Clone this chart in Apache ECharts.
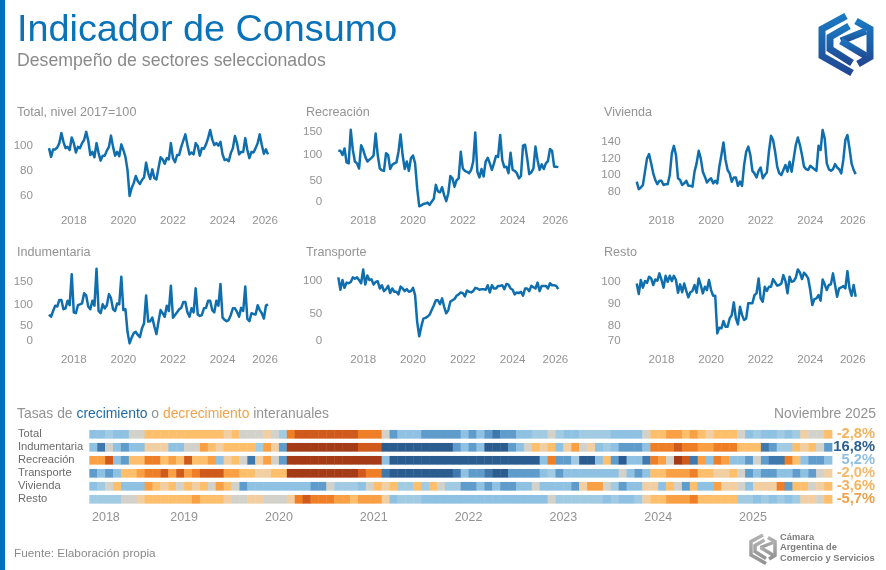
<!DOCTYPE html>
<html><head><meta charset="utf-8">
<style>html,body{margin:0;padding:0;background:#fff}#c{width:886px;height:570px}</style>
<script src="https://cdn.jsdelivr.net/npm/echarts@6/dist/echarts.min.js"></script>
</head><body><div id="c"></div>
<script>
// ---------- line panels: monthly, Jan 2017 .. Nov 2025 ----------
const total = [98,91,97,97,98.5,102,110,103,98,99,96.5,106.5,
102,94.5,99,98,102,104.5,111,104,92.5,95,90.7,102,
94,88,92,92,96,99,108,99,92,95,91.5,101,
96.5,91,80.5,59.7,66,70,75.7,71.5,69.3,72.5,74.5,86.4,
78,73.3,81,74,73,82,90.7,89,85.5,90,89,102,
90,86.7,92.5,92.5,99,104,109,100.5,93,94.5,93,102,
99.5,92,98,97.5,101,106,112.5,105,100.5,102,100,103,
93,88.5,89,87.5,94,98,107.7,102,93,95,95,106,
96.5,90,95,94.5,98,102,109,100.5,93.5,97,93];
const recreacion = [109,109,100,114,84,82,154,111,86,82,71,121,
111,96,86,90,94,99,146,100,71,67,66,104,
100,70,79,82,84,107,144,100,70,86,66,93,
99,82,29,-10,-8,-5,-4,-2,-7,0,6,36,
22,20,31,14,1,18,55,50,32,46,50,107,
71,66,64,61,68,86,148,64,52,70,54,86,
94,82,68,82,98,96,143,89,74,75,61,105,
68,66,61,50,55,120,122,93,59,63,71,118,
89,68,80,70,82,87,113,109,75,75,74];
const vivienda = [92,83,85,88,104,120,125,114,102,94,89,93,
93,88,89,89,100,126,135,124,96,94,88,90,
93,87,87,86,104,114,129,120,104,98,91,94,
96,90,93,90,110,124,139,118,106,102,92,97,
97,87,92,87,112,128,134,124,105,102,97,105,
109,96,100,103,128,147,142,128,110,102,100,106,
112,104,116,104,120,136,145,136,124,110,107,106,
111,109,107,105,135,130,154,144,114,107,105,107,
113,109,107,102,118,142,148,132,114,106,101];
const indumentaria = [77,72,85,97,95,110,110,89,91,108,98,168,
82,80,98,100,102,125,120,95,89,108,97,180,
85,80,100,91,98,123,114,89,85,102,100,162,
87,89,38,12,25,35,38,31,26,46,57,120,
61,62,70,50,33,61,87,80,72,97,85,142,
70,76,82,89,92,105,105,82,72,91,82,136,
77,74,76,91,92,108,108,87,82,108,97,146,
70,65,62,65,76,91,91,83,72,92,85,140,
67,62,80,78,77,98,87,80,68,97,100];
const transporte = [105,86,101,89,97,96,98,105,103,105,101,96,
117,94,108,101,102,94,98,99,88,93,84,87,
92,81,88,83,83,79,91,88,84,87,83,84,
89,78,37,15,30,42,43,45,48,55,62,70,
70,64,73,60,50,55,68,70,72,77,79,82,
81,76,85,83,82,84,89,88,86,87,87,86,
93,82,93,88,88,92,92,93,87,95,94,88,
86,79,82,81,83,77,88,88,84,92,90,88,
97,84,92,92,92,88,96,93,93,92,87];
const resto = [99.2,94.4,100.8,97.3,100.3,99.5,102.3,101.5,98.5,101,100.5,103.8,
100.8,97.3,102.7,100,102.7,100.3,102.7,100.8,95,98.8,95.2,99.2,
95.8,92.9,95.2,95.8,98.5,95,101.5,98.5,94.7,97.7,96.2,100.8,
96.2,93.6,93.6,76.5,79.1,78.8,82.1,79.5,79.5,83.3,84.8,90.6,
83.3,80.6,88.6,84.8,82.6,83.3,90.2,90.2,90.2,93.9,94.7,101.5,
92.4,90.9,97.7,95.8,97.7,97.7,101.2,99.7,98.2,98.5,99.2,103,
100.3,94.7,102.3,100,100.3,101.8,105.6,104.2,101.2,104.1,103,101.5,
96.2,89.4,92.1,92.4,93.9,91.4,101,98.8,96.2,98.5,98.8,103.8,
98.5,93.2,97,97.4,98,97,104.8,97,93.6,98.5,93.2];
const lineYearLabels = ['2018','2020','2022','2024','2026'];

// ---------- interannual rates (94 months) ----------
const rowNames = ['Total','Indumentaria','Recreación','Transporte','Vivienda','Resto'];
const lastLabels = ['-2,8%','16,8%','5,2%','-2,0%','-3,6%','-5,7%'];
const heatYearLabels = ['2018','2019','2020','2021','2022','2023','2024','2025'];
const rTotal = [4.5,4.5,2.5,5,4.5,1,-0.5,-4,-3.5,-4,-4.5,-4,
-3.5,-5,-4,-4,-4.5,-2,-3.5,0.5,0.5,0.5,-0.8,0,
2.5,-12,-20,-21,-19,-21,-19,-21,-19,-18,-15,-12,
-13,1,10,5,5,5,8,9,9,8,7,6,
8,6,10,20,11,9,6,5,3,3,0.5,3,
4,4,3,2.5,3,2.5,4,4,4.5,4,1,-5,
-5,-8,-8.5,-6,-7,-4,-2,-5,-5,-4,0.5,5,
2.5,5,5,3,4,1.5,-1.5,0.5,0.5,-2.8];
const rIndumentaria = [5,22,1,5,12,5,5,-1.5,-1,-1,5,5,
0.5,0.5,-8,-4,-2,-4,-4,-4,-4,3,-8,-1.5,
12,-35,-35,-40,-45,-50,-48,-42,-38,-36,-25,-24,
-26,35,40,50,60,65,70,60,55,45,12,5,
12,5,35,40,32,12,5,0.5,-4,-2,-4,5,
-1.5,-8,0.5,-1,5,1.6,5,12,10,12,5,-13,
-14,-13,-22,-14,-13,-9,-8,-12,-11,-12,-5,-4,
-5,25,12,3,3,-4,-2,-5,0.5,16.8];
const rRecreacion = [-9,-9,-20,5,12,-4,-5,-15,-14,-5,-8,-6,
-17,-4,-4,-8,5,-2,-4,0.5,22,-2,-8,0.5,
12,-35,-60,-85,-90,-92,-88,-80,-75,-70,-60,-50,
-45,5,150,200,260,280,250,230,210,180,150,120,
100,90,85,80,75,70,65,35,35,4,-13,12,
12,3,35,33,5,-4,12,35,5,5,20,-14,
-8,0.5,-30,-28,20,-8,5,-14,-9,5,5,12,
0.5,12,22,24,-14,-4,5,10,11,5.2];
const rTransporte = [12,5,8,5,-3,-3,-8,-14,-13,-17,-8,-20,
-9,-16,-17,-20,-18,-9,-8,-4,-4,-2,-2,-4,
-4,-35,-50,-55,-60,-55,-50,-45,-30,-29,-22,-14,
-15,22,35,32,38,40,36,32,30,33,18,5,
12,10,24,35,33,15,16,12,10,5,3,12,
5,5,5,5,5,5,5,0.5,6,8,5,-4,
-4,-8,-9,-8,-10.5,-4,-3,-2,-2,-3,0.5,12,
5,10,9,5,5,8,5,10,0.5,-2];
const rVivienda = [5,3,0.5,-3,6,6,5,-8,-3,-2,-4,0.5,
-3,-2,-3,0.5,-8,-4,0.5,8,5,5,5,5,
5,5,5,5,8,8,0.5,3,3,1.5,5,0.5,
-4,-2,-4,3,3,-5,3,-4.5,0.5,3,3,8,
8,5,9,5,8,8,5,5,0.5,5,5,5,
5,9,-1.5,-8,-7,1,2,9,5,5,-1.5,-2,
5,-5,0.5,14,-4,5,5,-7,-2,-1.5,0.5,5,
-1.5,-2,-2,-12,10,-4,-5,0.5,-2,-3.6];
const rResto = [3,1.5,3,3,0.5,0.5,-2,-4,-4,-3.5,-4,-4,
-4,-6.5,-4,-4,-4.5,-2,0.5,0,-1,-1,0.5,0.5,
0.5,-2,-14,-17,-15,-13,-13,-9,-8,-6,-7,-8,
-8,-2,5,3,3,3,5,5,5,5,4.5,5,
5,4.5,5,5,4.5,4.5,5,5,4.5,5,0.5,3,
3,3,3,3,3,4,3,4,4,3,-2,-4,
-5,-8,-9,-8,-11,-4,-5,-4,-4,-4,3,3,
4,3,4,3,4,3,-1.5,-1.5,0.5,-5.7];
const rateRows = [rTotal,rIndumentaria,rRecreacion,rTransporte,rVivienda,rResto];

// ---------- styling ----------
const FONT='"Liberation Sans",Arial,sans-serif', GREY='#939393', LINE='#0f6fae';
const BLUE_TXT='#1f6aa8', ORANGE_TXT='#f0a24b';
const lastColors=['#f5b35e','#2b5f92','#8fbfe0','#f5b96b','#f5b35e','#f2a048'];
function rateColor(v){
  if(v>=30) return '#2b5c8f'; if(v>=18) return '#3f78ad'; if(v>=7) return '#5f9ccb';
  if(v>=4) return '#8ec1e2'; if(v>=1.5) return '#a1cae3'; if(v>=-0.5) return '#d2d2cb';
  if(v>=-2.5) return '#f1cfa3'; if(v>=-6) return '#fdbf6c'; if(v>=-10) return '#f9a044';
  if(v>=-16) return '#ee7f26'; if(v>=-28) return '#d05a1b'; return '#a43b16';
}
const lineTickPos=[12,36,60,84,104.6];
const panels=[
 {name:'Total, nivel 2017=100',d:total,l:49,r:268,t:128,b:208,min:50.1,max:114.1,pos:[60,80,100],lab:['60','80','100'],tx:17,ty:113},
 {name:'Recreación',d:recreacion,l:338.3,r:558.3,t:128,b:208,min:-13.6,max:157.9,pos:[0,44,101,150],lab:['0','50','100','150'],tx:306,ty:113},
 {name:'Vivienda',d:vivienda,l:636.7,r:855.7,t:128,b:208,min:60.4,max:156.4,pos:[80,100,120,140],lab:['80','100','120','140'],tx:604,ty:113},
 {name:'Indumentaria',d:indumentaria,l:49,r:268,t:267,b:347,min:3.8,max:184.2,pos:[17.3,52,100,150],lab:['0','50','100','150'],tx:17,ty:252.5},
 {name:'Transporte',d:transporte,l:338.3,r:558.3,t:267,b:347,min:-1.5,max:120.9,pos:[7.6,50,100],lab:['0','50','100'],tx:306,ty:252.5},
 {name:'Resto',d:resto,l:636.7,r:855.7,t:267,b:347,min:70.3,max:106.7,pos:[73,80,90,100],lab:['70','80','90','100'],tx:604,ty:252.5}
];
const grids=[],xAxes=[],yAxes=[],series=[];
const text=(x,y,t,size,color,extra)=>({type:'text',x,y,silent:true,style:Object.assign({text:t,font:size+'px '+FONT,fill:color,textVerticalAlign:'middle'},extra||{})});
const graphics=[{type:'rect',shape:{x:0,y:0,width:5,height:570},style:{fill:'#0070ba'},silent:true}];

panels.forEach((p,i)=>{
  grids.push({left:p.l,top:p.t,width:p.r-p.l,height:p.b-p.t,containLabel:false});
  xAxes.push({gridIndex:i,type:'value',min:0,max:p.d.length-1,splitLine:{show:false},axisLine:{show:false},
    axisTick:{show:false},axisLabel:{customValues:lineTickPos,formatter:v=>lineYearLabels[lineTickPos.indexOf(v)],color:GREY,fontFamily:FONT,fontSize:11.6,margin:7,hideOverlap:false}});
  yAxes.push({gridIndex:i,type:'value',min:p.min,max:p.max,splitLine:{show:false},axisLine:{show:false},
    axisTick:{show:false},axisLabel:{customValues:p.pos,formatter:v=>p.lab[p.pos.indexOf(v)],color:GREY,fontFamily:FONT,fontSize:11.6,margin:16,hideOverlap:false}});
  series.push({type:'line',xAxisIndex:i,yAxisIndex:i,data:p.d.map((v,k)=>[k,v]),showSymbol:false,clip:false,
    lineStyle:{color:LINE,width:2.5,join:'round'},itemStyle:{color:LINE},silent:true,animation:false});
  graphics.push(text(p.tx,p.ty,p.name,12.6,GREY));
});

// heat strip
const hg=grids.length;
const heatTickPos=[2.1,12,24,36,48,60,72,84];
grids.push({left:89.3,top:427.8,width:742.7,height:78});
xAxes.push({gridIndex:hg,type:'value',min:0,max:94,splitLine:{show:false},axisLine:{show:false},axisTick:{show:false},
  axisLabel:{customValues:heatTickPos,formatter:v=>heatYearLabels[heatTickPos.indexOf(v)],color:GREY,fontFamily:FONT,fontSize:12.5,margin:5,hideOverlap:false}});
yAxes.push({gridIndex:hg,type:'category',inverse:true,data:rowNames,axisLine:{show:false},axisTick:{show:false},
  axisLabel:{interval:0,align:'left',margin:71.3,color:'#6a6a6a',fontFamily:FONT,fontSize:11.2}});
yAxes.push({gridIndex:hg,type:'category',inverse:true,position:'right',data:lastLabels,axisLine:{show:false},axisTick:{show:false},
  axisLabel:{interval:0,align:'right',margin:43,fontFamily:FONT,fontSize:14.7,fontWeight:'bold',hideOverlap:false,
    color:(v,i)=>lastColors[i]}});
const heatData=[];
rateRows.forEach((r,ri)=>r.forEach((v,m)=>heatData.push([m,ri,v])));
series.push({type:'custom',xAxisIndex:hg,yAxisIndex:yAxes.length-2,data:heatData,encode:{x:0,y:1},silent:true,animation:false,
  renderItem:(params,api)=>{
    const a=api.coord([api.value(0),api.value(1)]),b=api.coord([api.value(0)+1,api.value(1)]),h=8.7;
    return {type:'rect',shape:{x:a[0],y:a[1]-h/2,width:b[0]-a[0]+0.4,height:h},style:{fill:rateColor(api.value(2))}};
  }});

// text
graphics.push(text(17,31,'Indicador de Consumo',37.8,'#0a72b8'));
graphics.push(text(17,61.5,'Desempeño de sectores seleccionados',17.7,'#8a8a8a'));
graphics.push({type:'text',x:17,y:414.5,silent:true,style:{textVerticalAlign:'middle',font:'13.9px '+FONT,
  text:'{a|Tasas de }{b|crecimiento}{a| o }{c|decrecimiento}{a| interanuales}',
  rich:{a:{fill:GREY,font:'13.9px '+FONT},b:{fill:BLUE_TXT,font:'13.9px '+FONT},c:{fill:ORANGE_TXT,font:'13.9px '+FONT}}}});
graphics.push(text(876,414.5,'Noviembre 2025',13.9,GREY,{textAlign:'right'}));
graphics.push(text(14,553.5,'Fuente: Elaboración propia',11.8,'#8a8a8a'));
const brand={font:'bold 9.3px '+FONT};
graphics.push(text(780,537,'Cámara',9.3,'#7d7d7d',brand));
graphics.push(text(780,547.5,'Argentina de',9.3,'#7d7d7d',brand));
graphics.push(text(780,558,'Comercio y Servicios',9.3,'#7d7d7d',brand));

// logos (decorative)
const logoPaths=[
 [[0,-26],[-24,-13],[-24,14],[6,31]],
 [[3,-16],[-16,-5],[-16,7],[6,21]],
 [[10,-21],[24,-13],[24,15],[12,22]],
 [[-5,-1],[20,-11]],
 [[-5,-1],[20,14]]
];
function logo(cx,cy,s,c1,c2,w){
  logoPaths.forEach(pth=>graphics.push({type:'polyline',silent:true,
    shape:{points:pth.map(q=>[cx+q[0]*s,cy+q[1]*s])},
    style:{fill:null,lineWidth:w,lineJoin:'miter',stroke:new echarts.graphic.LinearGradient(0,0,0,1,[{offset:0,color:c1},{offset:1,color:c2}],false)}}));
}
logo(846,42,1,'#1a7cc4','#21458f',7);
logo(763,548,0.5,'#b5b5b5','#8f8f8f',3.5);

const chart=echarts.init(document.getElementById('c'),null,{renderer:'canvas',width:886,height:570});
chart.setOption({animation:false,backgroundColor:'#fff',textStyle:{fontFamily:FONT},grid:grids,xAxis:xAxes,yAxis:yAxes,series,graphic:graphics});
</script></body></html>
